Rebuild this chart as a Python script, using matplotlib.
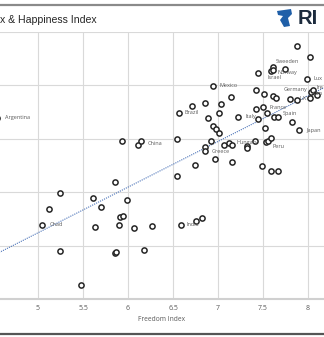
import matplotlib
matplotlib.use("Agg")
import matplotlib.pyplot as plt
from matplotlib.patches import Polygon
from matplotlib.lines import Line2D

# ---------------- data ----------------
freedom = [7.874, 8.022, 7.614, 7.586, 7.606, 7.744, 7.441, 7.992, 6.941, 7.144,
           7.422, 7.511, 7.614, 7.644, 7.800, 7.881, 8.030, 8.052, 8.022, 8.103,
           6.706, 6.852, 7.037, 6.563, 7.011, 6.892, 7.226, 7.419, 7.497, 7.544,
           7.622, 7.670, 7.448, 7.820, 7.902, 7.522, 6.941, 6.978, 7.011, 5.930,
           6.108, 6.141, 6.541, 6.922, 6.861, 6.850, 7.072, 7.119, 7.152, 7.322,
           7.326, 7.411, 7.530, 7.559, 7.594, 6.967, 7.159, 6.744, 7.494, 7.586,
           7.670, 6.541, 5.859, 5.248, 5.609, 5.986, 5.124, 5.698, 5.911, 5.941,
           5.048, 5.633, 5.900, 6.070, 6.267, 6.586, 6.752, 6.822, 5.244, 5.856,
           5.870, 6.174, 5.481, 4.540]
happiness = [7.743, 7.526, 7.350, 7.264, 7.283, 7.301, 7.238, 7.120, 6.989, 6.792,
             6.914, 6.833, 6.807, 6.770, 6.745, 6.732, 6.871, 6.919, 6.758, 6.820,
             6.605, 6.665, 6.657, 6.489, 6.489, 6.384, 6.414, 6.567, 6.590, 6.474,
             6.408, 6.414, 6.367, 6.318, 6.159, 6.208, 6.234, 6.178, 6.109, 5.959,
             5.884, 5.964, 6.002, 5.964, 5.841, 5.777, 5.878, 5.912, 5.878, 5.865,
             5.837, 5.963, 5.934, 5.968, 6.015, 5.622, 5.560, 5.509, 5.496, 5.406,
             5.397, 5.309, 5.197, 4.981, 4.891, 4.854, 4.680, 4.728, 4.541, 4.554,
             4.391, 4.354, 4.390, 4.330, 4.361, 4.390, 4.466, 4.511, 3.895, 3.856,
             3.886, 3.923, 3.268, 6.390]

label_names = ["Sweeden", "Norway", "Israel", "Lux", "Mexico", "Germany", "Ire",
               "UK", "Can", "Brazil", "Italy", "France", "Spain", "Japan", "China",
               "Greece", "Hungary", "Peru", "Chad", "India", "Argentina"]
label_idx = [2, 3, 6, 7, 8, 16, 17, 18, 19, 23, 26, 28, 31, 34, 41,
             45, 48, 52, 70, 75, 83]

trend_coef = [0.855, -0.035]          # slope, intercept of the linear trendline
trend_range = [4.0, 8.6]

x_ticks = [5, 5.5, 6, 6.5, 7, 7.5, 8]
x_tick_labels = ["5", "5.5", "6", "6.5", "7", "7.5", "8"]
y_grid = [3, 4, 5, 6, 7, 8]

title_text = "x & Happiness Index"
x_label = "Freedom Index"

# ---------------- layout / style ----------------
W, H = 324, 337
label_offsets = {           # pixel offsets (dx, dy) and horizontal alignment
    "Sweeden": (2, 5, "left"), "Norway": (7, -1, "left"),
    "Israel": (10, -5, "left"), "Lux": (6, 0, "left"),
    "Mexico": (7, 0, "left"), "Germany": (-3, 3, "right"),
    "Ire": (10.5, 2, "right"), "UK": (-3, 0, "right"), "Can": (5.5, 1.5, "right"),
    "Brazil": (6, 0, "left"), "Italy": (7, 0, "left"),
    "France": (7, 0, "left"), "Spain": (4, 3.5, "left"),
    "Japan": (7, -0.5, "left"), "China": (7, -2.5, "left"),
    "Greece": (7, -1, "left"), "Hungary": (5, 2.5, "left"),
    "Peru": (7, -4, "left"), "Chad": (7, 0, "left"),
    "India": (6, 0, "left"), "Argentina": (8, 0, "left"),
}

plt.rcParams["font.family"] = ["Open Sans", "DejaVu Sans"]

fig = plt.figure(figsize=(W / 100, H / 100), dpi=100)
fig.patch.set_facecolor("white")

ax_bottom_px, ax_top_px = 299, 32
ax = fig.add_axes([0, (H - ax_bottom_px) / H, 1, (ax_bottom_px - ax_top_px) / H])
x0 = 5 - 38 / 90
ax.set_xlim(x0, x0 + W / 90)
ax.set_ylim(3, 8)

ax.set_xticks(x_ticks)
ax.set_xticklabels(x_tick_labels)
ax.set_yticks(y_grid)
ax.tick_params(axis="both", length=0, labelsize=5, colors="#595959", pad=4)
ax.tick_params(axis="y", labelleft=False)
ax.grid(True, color="#d9d9d9", linewidth=0.8)
ax.set_axisbelow(True)
for s in ["left", "right", "top"]:
    ax.spines[s].set_visible(False)
ax.spines["bottom"].set_color("#d0d0d0")
ax.spines["bottom"].set_linewidth(1.5)

ax.set_xlabel(x_label, fontsize=4.8, color="#595959", labelpad=3)

# trendline
tx = trend_range
ty = [trend_coef[0] * v + trend_coef[1] for v in tx]
ax.plot(tx, ty, linestyle=(0, (1, 1)), color="#4a72b8", linewidth=0.8, zorder=2)

# points
ax.scatter(freedom, happiness, s=14, facecolors="white", edgecolors="#262626",
           linewidths=1.1, zorder=3)

# labels
for name, i in zip(label_names, label_idx):
    dx, dy, ha = label_offsets[name]
    ax.annotate(name, (freedom[i], happiness[i]), xytext=(dx, dy),
                textcoords="offset pixels", fontsize=4, color="#595959",
                ha=ha, va="center", annotation_clip=False, zorder=4)

# title and frame decorations
fig.text(0.0, 1 - 20 / H, title_text, fontsize=7.6, color="#262626",
         family=["Liberation Sans", "DejaVu Sans"], ha="left", va="center")
fig.add_artist(Line2D([0, 1], [1 - 5 / H, 1 - 5 / H], color="#8a8a8a",
                      linewidth=1.6, transform=fig.transFigure))
fig.add_artist(Line2D([0, 1], [1 - 334 / H, 1 - 334 / H], color="#555555",
                      linewidth=1.6, transform=fig.transFigure))

# RIA logo (icon + text)
icon = [(277, 11), (291, 9), (292, 14), (288, 18), (290, 26), (284, 27),
        (280, 20), (283, 16), (278, 15)]
fig.add_artist(Polygon([(x / W, 1 - y / H) for x, y in icon], closed=True,
                       facecolor="#1f5fa8", edgecolor="none",
                       transform=fig.transFigure))
fig.text(298 / W, 1 - 19 / H, "RI", fontsize=14.5, fontweight="bold",
         color="#1c2b3d", family=["Liberation Sans", "DejaVu Sans"],
         ha="left", va="center")

fig.savefig("out.png", dpi=100)
